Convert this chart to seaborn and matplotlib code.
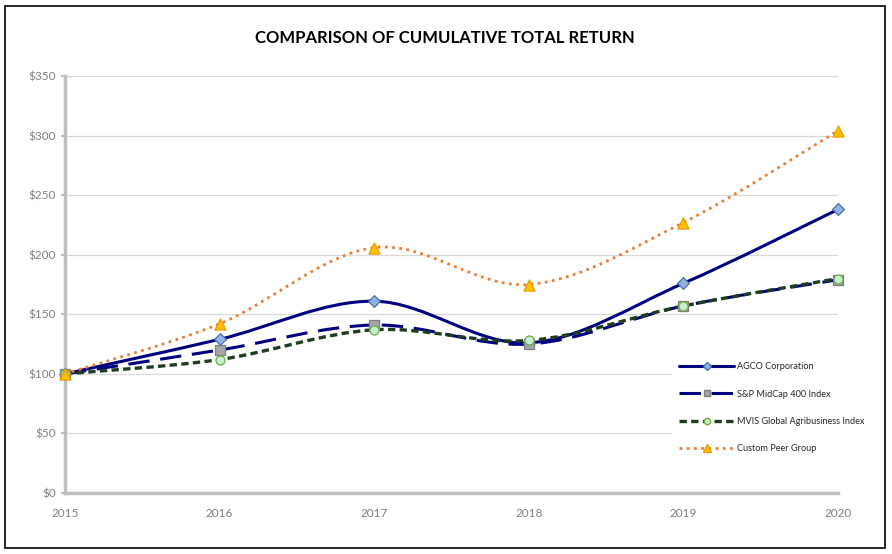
"""Comparison of cumulative total return - smoothed line chart"""
import matplotlib
matplotlib.use("Agg")
import matplotlib.pyplot as plt
from matplotlib.path import Path
from matplotlib.patches import PathPatch, Rectangle
from matplotlib.lines import Line2D
from matplotlib.ticker import FuncFormatter
import pandas as pd
import seaborn as sns

years = [2015, 2016, 2017, 2018, 2019, 2020]
agco = [100, 129, 161, 126, 176, 238]
sp_midcap = [100, 120, 141, 125, 157, 179]
mvis = [100, 112, 137, 128, 157, 180]
peer = [100, 142, 206, 175, 227, 304]

series_names = ["AGCO Corporation", "S&P MidCap 400 Index",
                "MVIS Global Agribusiness Index", "Custom Peer Group"]

styles = {
    "AGCO Corporation": dict(color="#000080", ls="-", lw=2.2, marker="D",
                             mfc="#8DB4E2", mec="#4F6FA8", ms=6),
    "S&P MidCap 400 Index": dict(color="#000080", ls=(0, (7, 3.5)), lw=2.2, marker="s",
                                 mfc="#A6A6A6", mec="#7F7F7F", ms=6.5),
    "MVIS Global Agribusiness Index": dict(color="#1E3D1E", ls=(0, (2.2, 1.3)), lw=2.4,
                                           marker="o", mfc="#C6EFCE", mec="#70AD47", ms=6.5),
    "Custom Peer Group": dict(color="#ED7D31", ls=(0, (1, 1.6)), lw=2.0, marker="^",
                              mfc="#FFC000", mec="#ED9B00", ms=8),
}


def smooth_path(xs, ys):
    # Excel-style smoothing: cubic Bezier segments through every point
    pts = list(zip(xs, ys))
    n = len(pts)
    verts = [pts[0]]
    codes = [Path.MOVETO]
    for i in range(n - 1):
        p0 = pts[max(i - 1, 0)]
        p1 = pts[i]
        p2 = pts[i + 1]
        p3 = pts[min(i + 2, n - 1)]
        c1 = (p1[0] + (p2[0] - p0[0]) / 6, p1[1] + (p2[1] - p0[1]) / 6)
        c2 = (p2[0] - (p3[0] - p1[0]) / 6, p2[1] - (p3[1] - p1[1]) / 6)
        verts += [c1, c2, p2]
        codes += [Path.CURVE4] * 3
    return Path(verts, codes)


def main():
    df = pd.DataFrame({"year": years, series_names[0]: agco, series_names[1]: sp_midcap,
                       series_names[2]: mvis, series_names[3]: peer})
    long = df.melt(id_vars="year", var_name="series", value_name="value")

    sns.set_style("white")
    plt.rcParams["font.family"] = ["Lato", "DejaVu Sans"]

    fig = plt.figure(figsize=(8.92, 5.54), dpi=100)
    ax = fig.add_axes([65 / 892, 61 / 554, 773 / 892, 417 / 554])

    for name in series_names:
        st = styles[name]
        sub = long[long["series"] == name]
        patch = PathPatch(smooth_path(sub["year"].tolist(), sub["value"].tolist()),
                          facecolor="none", edgecolor=st["color"], lw=st["lw"],
                          linestyle=st["ls"], zorder=3, clip_on=False)
        ax.add_patch(patch)
        sns.scatterplot(data=sub, x="year", y="value", ax=ax, marker=st["marker"],
                        color=st["mfc"], edgecolor=st["mec"], linewidth=0.9,
                        s=st["ms"] ** 2, zorder=4, clip_on=False, legend=False)

    ax.set_xlim(2015, 2020)
    ax.set_ylim(0, 350)
    ax.set_xticks(years)
    ax.set_yticks(range(0, 351, 50))
    ax.yaxis.set_major_formatter(FuncFormatter(lambda v, p: f"${v:.0f}"))
    ax.grid(axis="y", color="#D9D9D9", lw=0.9)
    ax.set_axisbelow(True)
    ax.set_xlabel("")
    ax.set_ylabel("")
    for s in ["top", "right"]:
        ax.spines[s].set_visible(False)
    for s in ["left", "bottom"]:
        ax.spines[s].set_color("#BFBFBF")
        ax.spines[s].set_linewidth(2.5)
    ax.tick_params(axis="both", colors="#BFBFBF", labelcolor="#7F7F7F", labelsize=8.5,
                   length=3, width=1.5, direction="out", left=True, bottom=False)
    ax.tick_params(axis="x", pad=8)

    fig.text(445 / 892, 1 - 38 / 554, "COMPARISON OF CUMULATIVE TOTAL RETURN",
             ha="center", va="center", fontsize=12, fontweight="bold", color="black")

    handles = []
    for name in series_names:
        st = styles[name]
        handles.append(Line2D([0], [0], color=st["color"], ls=st["ls"], lw=st["lw"],
                              marker=st["marker"], markerfacecolor=st["mfc"],
                              markeredgecolor=st["mec"], markersize=st["ms"] * 0.7))
    leg = fig.legend(handles, series_names, loc="upper left",
                     bbox_to_anchor=(672 / 892, 1 - 355 / 554), fontsize=6.6,
                     frameon=True, facecolor="white", edgecolor="none", framealpha=1,
                     handlelength=6.0, labelspacing=2.0, handletextpad=0.3,
                     borderpad=0.8, borderaxespad=0)
    leg.set_zorder(10)

    fig.patches.append(Rectangle((5 / 892, 6 / 554), 880 / 892, 542 / 554,
                                 transform=fig.transFigure, fill=False,
                                 edgecolor="black", lw=1.2))

    fig.savefig("out.png", dpi=100)


if __name__ == '__main__':
    main()
